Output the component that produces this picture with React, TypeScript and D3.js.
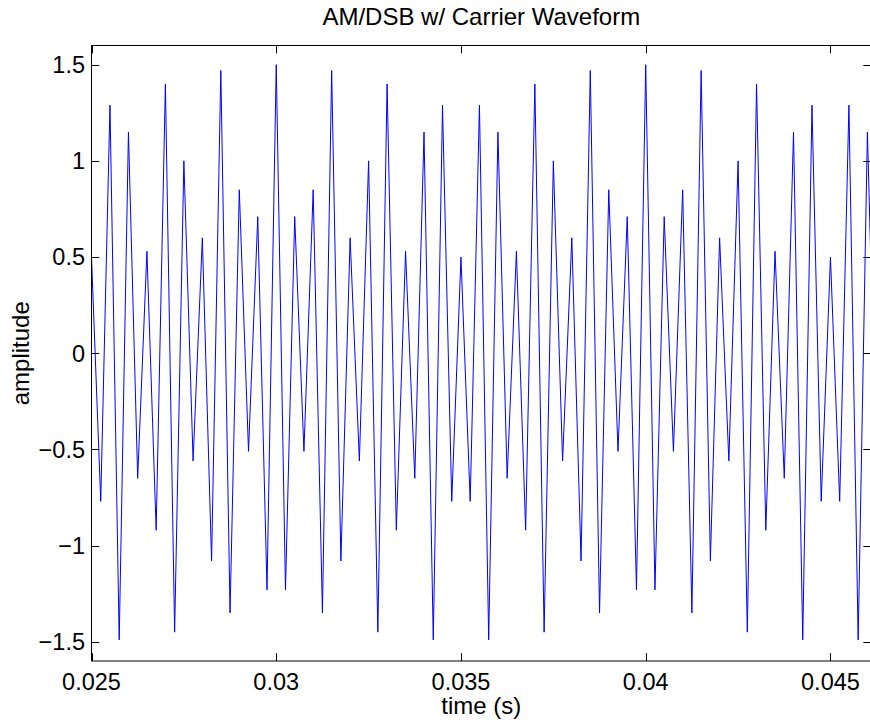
import React, { useEffect, useRef } from 'react';
import * as d3 from 'd3';

// sample times start at 0.025 s, one sample every 0.25 ms
const START_TIME = 0.025;
const SAMPLE_STEP = 0.00025;

// amplitude of each sample (peak, trough, peak, ...)
const amplitudes = [
    0.50, -0.77, 1.29, -1.49, 1.15, -0.65, 0.53, -0.92, 1.40, -1.45,
    1.00, -0.56, 0.60, -1.08, 1.47, -1.35, 0.85, -0.51, 0.71, -1.23,
    1.50, -1.23, 0.71, -0.51, 0.85, -1.35, 1.47, -1.08, 0.60, -0.56,
    1.00, -1.45, 1.40, -0.92, 0.53, -0.65, 1.15, -1.49, 1.29, -0.77,
    0.50, -0.77, 1.29, -1.49, 1.15, -0.65, 0.53, -0.92, 1.40, -1.45,
    1.00, -0.56, 0.60, -1.08, 1.47, -1.35, 0.85, -0.51, 0.71, -1.23,
    1.50, -1.23, 0.71, -0.51, 0.85, -1.35, 1.47, -1.08, 0.60, -0.56,
    1.00, -1.45, 1.40, -0.92, 0.53, -0.65, 1.15, -1.49, 1.29, -0.77,
    0.50, -0.77, 1.29, -1.49, 1.15, -0.65
];

const xTicks = [0.025, 0.03, 0.035, 0.04, 0.045];
const yTicks = [-1.5, -1, -0.5, 0, 0.5, 1, 1.5];

const X_DOMAIN = [0.025, 0.0461];
const Y_DOMAIN = [-1.6, 1.6];

const TITLE = 'AM/DSB w/ Carrier Waveform';
const X_LABEL = 'time (s)';
const Y_LABEL = 'amplitude';

const App = () => {
    const width = 870;
    const height = 724;
    const plot = { left: 91.5, right: 871.1, top: 45.5, bottom: 661 };
    const tickLen = 7.8;
    const font = 'Arial, "Liberation Sans", Helvetica, sans-serif';

    const svgRef = useRef<SVGSVGElement>(null);

    useEffect(() => {
        const svg = d3.select(svgRef.current);
        svg.selectAll('*').remove();

        const x_scale = d3.scaleLinear().domain(X_DOMAIN).range([plot.left, plot.right]);
        const y_scale = d3.scaleLinear().domain(Y_DOMAIN).range([plot.bottom, plot.top]);

        const fmt = (v: number) => String(v).replace('-', '\u2212');

        svg.append('rect')
            .attr('width', width)
            .attr('height', height)
            .attr('fill', '#ffffff');

        svg.append('defs').append('clipPath')
            .attr('id', 'plot-clip')
            .append('rect')
            .attr('x', plot.left)
            .attr('y', plot.top)
            .attr('width', plot.right - plot.left)
            .attr('height', plot.bottom - plot.top);

        // waveform
        const line = d3.line<number>()
            .x((d, i) => x_scale(START_TIME + i * SAMPLE_STEP))
            .y(d => y_scale(d));

        svg.append('path')
            .datum(amplitudes)
            .attr('clip-path', 'url(#plot-clip)')
            .attr('d', line)
            .style('fill', 'none')
            .style('stroke', '#0000ff')
            .style('stroke-width', 1);

        // box and ticks, MATLAB style (inward ticks on all sides)
        const axes = svg.append('g').attr('stroke', '#000000').attr('stroke-width', 1);

        axes.append('rect')
            .attr('x', plot.left)
            .attr('y', plot.top)
            .attr('width', plot.right - plot.left)
            .attr('height', plot.bottom - plot.top)
            .attr('fill', 'none');

        xTicks.forEach(t => {
            const x = Math.round(x_scale(t)) + 0.5;
            axes.append('line').attr('x1', x).attr('x2', x)
                .attr('y1', plot.bottom).attr('y2', plot.bottom - tickLen);
            axes.append('line').attr('x1', x).attr('x2', x)
                .attr('y1', plot.top).attr('y2', plot.top + tickLen);
        });

        yTicks.forEach(t => {
            const y = Math.round(y_scale(t)) + 0.5;
            axes.append('line').attr('x1', plot.left).attr('x2', plot.left + tickLen)
                .attr('y1', y).attr('y2', y);
            axes.append('line').attr('x1', plot.right).attr('x2', plot.right - tickLen)
                .attr('y1', y).attr('y2', y);
        });

        // tick labels
        svg.append('g').selectAll('text')
            .data(xTicks)
            .enter().append('text')
            .attr('x', d => x_scale(d))
            .attr('y', 690)
            .attr('text-anchor', 'middle')
            .attr('font-family', font)
            .attr('font-size', 23.5)
            .text(d => fmt(d));

        svg.append('g').selectAll('text')
            .data(yTicks)
            .enter().append('text')
            .attr('x', plot.left - 6.5)
            .attr('y', d => y_scale(d) + 8.4)
            .attr('text-anchor', 'end')
            .attr('font-family', font)
            .attr('font-size', 23.5)
            .text(d => fmt(d));

        // titles
        svg.append('text')
            .attr('x', (plot.left + plot.right) / 2)
            .attr('y', 25)
            .attr('text-anchor', 'middle')
            .attr('font-family', font)
            .attr('font-size', 24)
            .text(TITLE);

        svg.append('text')
            .attr('x', (plot.left + plot.right) / 2)
            .attr('y', 714)
            .attr('text-anchor', 'middle')
            .attr('font-family', font)
            .attr('font-size', 24)
            .text(X_LABEL);

        svg.append('text')
            .attr('transform', 'translate(29 ' + y_scale(0) + ') rotate(-90)')
            .attr('text-anchor', 'middle')
            .attr('font-family', font)
            .attr('font-size', 24)
            .text(Y_LABEL);
    }, []);

    return <svg
        ref={svgRef}
        width={width}
        height={height}
        style={{ position: 'absolute', left: 0, top: 0, display: 'block' }}
    />;
};

export default App;
